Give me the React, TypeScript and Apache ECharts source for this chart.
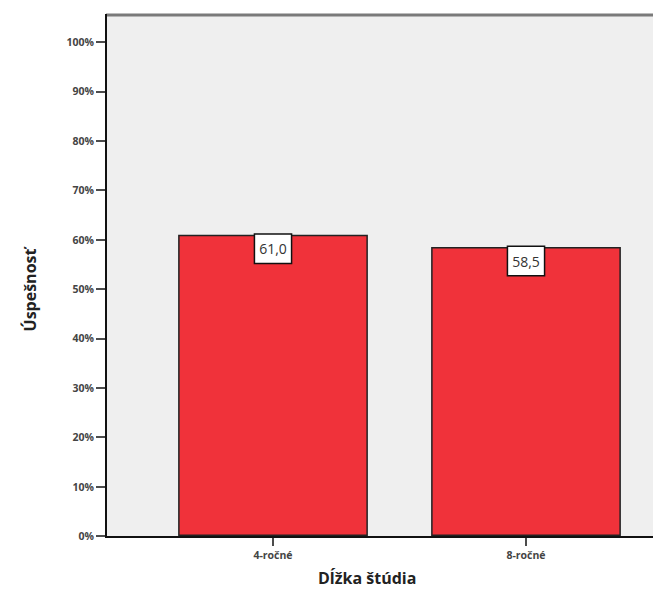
import React, { useEffect, useRef } from "react";
import * as echarts from "echarts";

const categories = ["4-ročné", "8-ročné"];
const values = [61.0, 58.5];
const yTicks = [0, 10, 20, 30, 40, 50, 60, 70, 80, 90, 100];

export default function App() {
  const ref = useRef<HTMLDivElement>(null);
  useEffect(() => {
    const chart = echarts.init(ref.current!, null, { renderer: "svg" });
    chart.setOption({
      animation: false,
      backgroundColor: "#ffffff",
      grid: { left: 146.5, right: 0.5, top: 42, bottom: 62 },
      graphic: [
        { type: "rect", z: -1, shape: { x: 106, y: 15, width: 547, height: 522 }, style: { fill: "#efefef" } },
        { type: "line", z: 10, shape: { x1: 106, y1: 15, x2: 653, y2: 15 }, style: { stroke: "#7a7a7a", lineWidth: 3 } },
        { type: "line", z: 10, shape: { x1: 105, y1: 537, x2: 653, y2: 537 }, style: { stroke: "#111", lineWidth: 2 } },
        { type: "line", z: 10, shape: { x1: 106, y1: 14, x2: 106, y2: 538 }, style: { stroke: "#111", lineWidth: 2 } },
        {
          type: "text", z: 10, left: 318, top: 570,
          style: { text: "Dĺžka štúdia", font: "bold 16px 'Open Sans'", fill: "#222" },
        },
        {
          type: "text", z: 10, x: 30, y: 290, rotation: Math.PI / 2,
          style: { text: "Úspešnosť", font: "bold 16px 'Open Sans'", fill: "#222", align: "center", verticalAlign: "middle" },
        },
      ],
      xAxis: {
        type: "category",
        data: categories,
        axisLine: { show: false },
        axisTick: { show: true, alignWithLabel: true, length: 10, lineStyle: { color: "#111", width: 1.5 } },
        axisLabel: { color: "#444", fontSize: 10.5, fontFamily: "Open Sans", fontWeight: "bold", margin: 13 },
      },
      yAxis: {
        type: "value",
        min: 0,
        max: 100,
        interval: 10,
        offset: 40.5,
        splitLine: { show: false },
        axisLine: { show: false },
        axisTick: { show: true, length: 10, lineStyle: { color: "#111", width: 1.5 } },
        axisLabel: {
          color: "#444", fontSize: 10.5, fontFamily: "Open Sans", fontWeight: "bold", margin: 12,
          formatter: (v: number) => (yTicks.includes(v) ? v + "%" : ""),
        },
      },
      series: [
        {
          type: "bar",
          data: values,
          barCategoryGap: "25%",
          itemStyle: { color: "#f0323a", borderColor: "#222", borderWidth: 1.5 },
          label: {
            show: true,
            position: "insideTop",
            distance: 0,
            formatter: (p: any) => p.value.toFixed(1).replace(".", ","),
            color: "#333",
            fontSize: 14,
            fontFamily: "Open Sans",
            backgroundColor: "#ffffff",
            borderColor: "#111",
            borderWidth: 1.5,
            padding: [7, 4, 7, 4],
          },
        },
      ],
    });
    return () => chart.dispose();
  }, []);
  return <div ref={ref} style={{ position: "fixed", left: 0, top: 0, width: 653, height: 598 }} />;
}
